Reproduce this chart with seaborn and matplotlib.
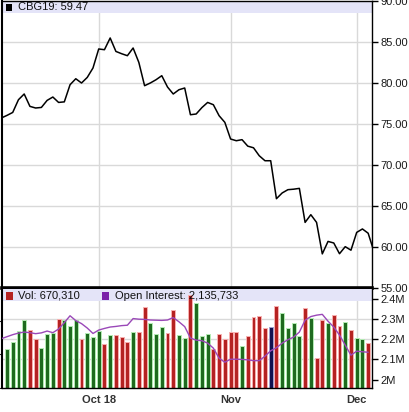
import numpy as np
import pandas as pd
import matplotlib
matplotlib.use("Agg")
import matplotlib.pyplot as plt
import matplotlib.transforms as mtransforms
from matplotlib.patches import Rectangle
from matplotlib.ticker import FuncFormatter
import seaborn as sns

# daily settle, day 0 .. 65
price = [75.73, 76.05, 76.41, 77.96, 78.66, 77.15, 76.95, 77.02, 77.88, 78.29,
         77.63, 77.70, 79.79, 80.52, 80.00, 80.68, 81.83, 84.15, 84.06, 85.49,
         83.85, 83.57, 83.33, 84.27, 82.51, 79.67, 80.00, 80.40, 80.89, 79.51,
         78.66, 79.18, 79.39, 76.13, 76.22, 77.00, 77.63, 77.35, 76.01, 75.20,
         73.17, 72.96, 73.09, 72.30, 72.10, 71.13, 70.52, 70.52, 65.89, 66.59,
         66.99, 67.05, 67.15, 63.00, 63.94, 63.00, 59.16, 60.68, 60.49, 59.18,
         60.04, 59.61, 61.78, 62.20, 61.68, 59.47]

# volume in thousands, day 1 .. 64
volume_k = [577, 685, 845, 1009, 860, 726, 596, 796, 820, 1024,
            1009, 924, 1009, 726, 811, 760, 845, 651, 785, 785,
            751, 681, 834, 834, 1207, 960, 796, 909, 820, 1158,
            785, 745, 1381, 1267, 770, 800, 584, 808, 733, 834,
            834, 621, 770, 1058, 1068, 894, 909, 1222, 1118, 894,
            969, 775, 1192, 1043, 447, 1016, 960, 1083, 919, 983,
            867, 745, 730, 670.31]

# open interest in millions, day 0 .. 64
open_int = [2.203, 2.213, 2.223, 2.231, 2.236, 2.233, 2.228, 2.232, 2.241, 2.233,
            2.251, 2.283, 2.317, 2.293, 2.278, 2.256, 2.229, 2.246, 2.254, 2.261,
            2.264, 2.268, 2.270, 2.303, 2.300, 2.299, 2.296, 2.295, 2.294, 2.296,
            2.308, 2.287, 2.263, 2.206, 2.196, 2.193, 2.181, 2.156, 2.106, 2.086,
            2.101, 2.101, 2.100, 2.098, 2.094, 2.094, 2.116, 2.143, 2.158, 2.181,
            2.198, 2.211, 2.236, 2.295, 2.313, 2.320, 2.324, 2.290, 2.261, 2.221,
            2.171, 2.121, 2.141, 2.138, 2.135733]

tick_pos = [17, 40, 62]
tick_labels = ['Oct 18', 'Nov', 'Dec']
price_ticks = [55, 60, 65, 70, 75, 80, 85, 90]
oi_ticks = [2.0, 2.1, 2.2, 2.3, 2.4]
oi_labels = ['2M', '2.1M', '2.2M', '2.3M', '2.4M']
symbol = 'CBG19'
vol_text = '670,310'
oi_text = '2,135,733'

sns.set_style("white")
plt.rcParams['font.family'] = ['Liberation Sans', 'DejaVu Sans']

grid_c = '#d9d9d9'
band_c = '#e4e4f8'
W, H = 409, 412

df_p = pd.DataFrame({'day': np.arange(len(price)), 'price': price})
df_v = pd.DataFrame({'day': np.arange(1, len(volume_k) + 1), 'vol': np.array(volume_k) * 1000})
df_v['chg'] = np.sign(np.round(np.diff(price)[:len(volume_k)], 4)).astype(int)
df_o = pd.DataFrame({'day': np.arange(len(open_int)), 'oi': open_int})

fig = plt.figure(figsize=(W / 100, H / 100), dpi=100)
ax_p = fig.add_axes([2 / W, 1 - 288 / H, 370 / W, 287 / H])
ax_v = fig.add_axes([2 / W, 1 - 388 / H, 370 / W, 99 / H], sharex=ax_p)

# ---- price panel
sns.lineplot(data=df_p, x='day', y='price', ax=ax_p, color='black', linewidth=1.1, zorder=3)
ax_p.set_xlim(0.13, 64.67)
ax_p.set_ylim(55, 90)
ax_p.set_yticks(price_ticks)
ax_p.yaxis.tick_right()
ax_p.yaxis.set_major_formatter(FuncFormatter(lambda v, _: f'{v:.2f}'))
ax_p.tick_params(axis='y', length=4, width=1, pad=2, labelsize=8, labelcolor='#1a1a1a', color='black')
ax_p.tick_params(axis='x', bottom=False, labelbottom=False)
ax_p.grid(True, color=grid_c, linewidth=1)
ax_p.set_axisbelow(True)
ax_p.set_xlabel('')
ax_p.set_ylabel('')
for s in ax_p.spines.values():
    s.set_color('black')
    s.set_linewidth(1)
ax_p.spines['bottom'].set_linewidth(2.6)
ax_p.spines['left'].set_linewidth(1.5)

fx = lambda x: (x - 2) / 370
fy = lambda y: (288 - y) / 287
ax_p.add_patch(Rectangle((0, fy(13)), 1, 12 / 287, transform=ax_p.transAxes,
                         facecolor=band_c, edgecolor='none', zorder=1))
ax_p.add_patch(Rectangle((fx(6), fy(11)), 6 / 370, 7 / 287, transform=ax_p.transAxes,
                         facecolor='black', edgecolor='none', zorder=4))
ax_p.text(fx(18), fy(7.5), f'{symbol}: {price[-1]:.2f}', transform=ax_p.transAxes,
          ha='left', va='center', fontsize=8, color='#111111', zorder=5)

# ---- volume / open interest panel
bar_c = df_v['chg'].map({1: '#1f6a1f', -1: '#b52222', 0: '#11114f'})
edge_c = df_v['chg'].map({1: '#b4ecb4', -1: '#f7b0b0', 0: '#a0a0d0'})
ax_v.bar(df_v['day'], df_v['vol'], width=0.68, color=bar_c, edgecolor=edge_c,
         linewidth=0.7, zorder=2)
ax_v.set_xticks(tick_pos, tick_labels)
ax_v.grid(True, axis='x', color=grid_c, linewidth=1)
ax_v.set_axisbelow(True)
ax_v.tick_params(axis='y', left=False, labelleft=False)
ax_v.tick_params(axis='x', length=3, color='#999999', pad=2, labelsize=8, labelcolor='#333333')
for lbl in ax_v.get_xticklabels():
    lbl.set_fontweight('bold')

ax_o = ax_v.twinx()
sns.lineplot(data=df_o, x='day', y='oi', ax=ax_o, color='#9a48b8', linewidth=1, zorder=3)
ax_o.set_ylim(1.958, 2.450)
ax_o.set_yticks(oi_ticks, oi_labels)
ax_o.tick_params(axis='y', length=4, width=1, pad=2, labelsize=8, labelcolor='#1a1a1a', color='black')
ax_o.set_ylabel('')
ax_o.set_xlabel('')
ax_v.set_xlabel('')

blend = mtransforms.blended_transform_factory(ax_v.transAxes, ax_o.transData)
for t in oi_ticks[1:]:
    ax_v.plot([0, 1], [t, t], transform=blend, color=grid_c, linewidth=1, zorder=0.5)
ax_v.set_ylim(0, 1.47e6)
ax_v.set_xlim(0.13, 64.67)

for s in ax_o.spines.values():
    s.set_visible(False)
for s in ax_v.spines.values():
    s.set_color('black')
    s.set_linewidth(1)
ax_v.spines['top'].set_visible(False)
ax_v.spines['left'].set_linewidth(1.5)

gx = lambda x: (x - 2) / 370
gy = lambda y: (388 - y) / 99
ax_v.add_patch(Rectangle((0, gy(301)), 1, 12 / 99, transform=ax_v.transAxes,
                         facecolor=band_c, edgecolor='none', zorder=1))
ax_o.add_patch(Rectangle((gx(6), gy(300)), 7 / 370, 8 / 99, transform=ax_o.transAxes,
                         facecolor='#b52222', edgecolor='none', zorder=4))
ax_o.text(gx(18), gy(296), f'Vol: {vol_text}', transform=ax_o.transAxes,
          ha='left', va='center', fontsize=8, color='#111111', zorder=5)
ax_o.add_patch(Rectangle((gx(102), gy(300)), 7 / 370, 8 / 99, transform=ax_o.transAxes,
                         facecolor='#7a22a8', edgecolor='none', zorder=4))
ax_o.text(gx(115), gy(296), f'Open Interest: {oi_text}', transform=ax_o.transAxes,
          ha='left', va='center', fontsize=8, color='#111111', zorder=5)

fig.savefig('out.png', dpi=100)
